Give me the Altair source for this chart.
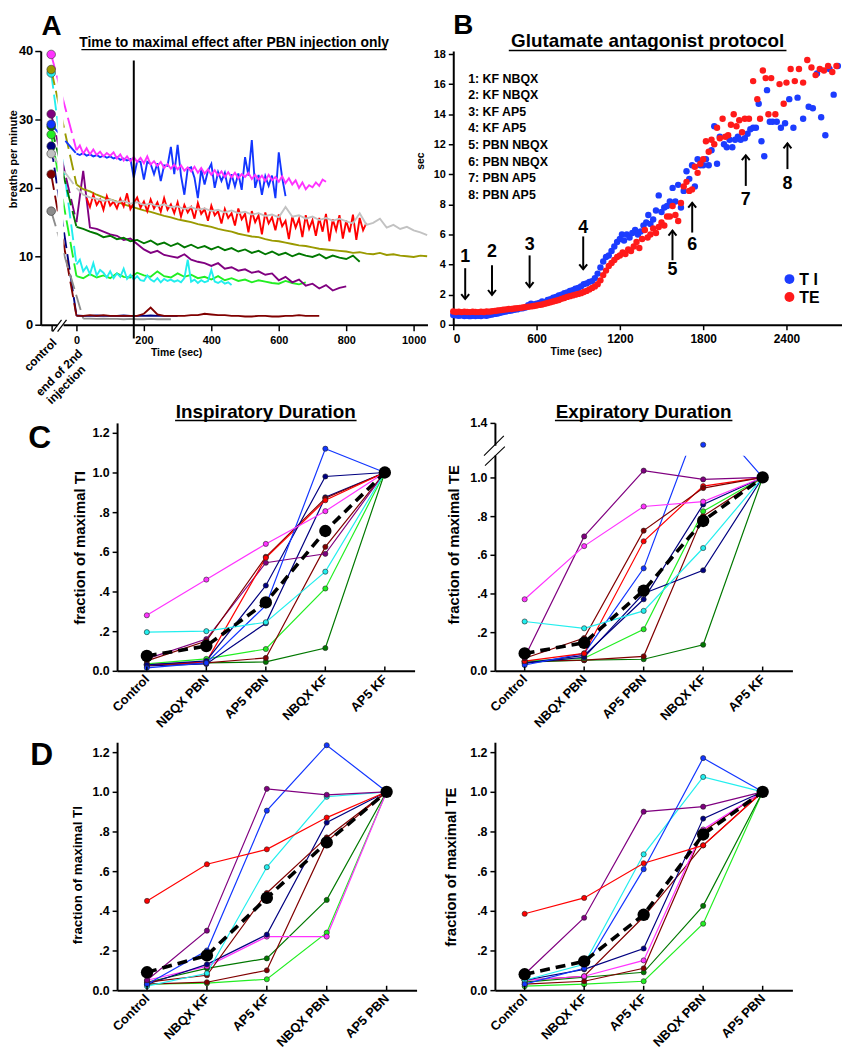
import altair as alt
import pandas as pd

FONT = "Liberation Sans"
ONE = pd.DataFrame({"k": [0]})

COL = {
    "magenta": "#ff33ff", "blue": "#1236ff", "red": "#ff0000", "ltgray": "#c2c2c2",
    "olive": "#9a9a00", "dkgreen": "#007800", "purple": "#800080", "cyan": "#22eeee",
    "lime": "#22ee22", "maroon": "#800000", "navy": "#000080", "gray": "#8c8c8c",
    "black": "#000000", "teal": "#008080",
}

# ---------------- Panel A data ----------------
A_control_t = -75
A_names = ["navy", "maroon", "gray", "lime", "cyan", "purple", "dkgreen", "olive", "red", "ltgray", "blue", "magenta"]
A_control = [26.1, 22.0, 16.6, 27.8, 36.8, 30.8, 29.0, 37.3, None, 25.0, 29.3, 39.5]
A_start = [0, 0, 20, 0, 0, 0, 0, 0, 30, 0, 0, 0]
A_step = [20, 20, 20, 20, 10, 20, 20, 20, 10, 20, 10, 10]

A_navy = [1.35, 1.3, 1.3, 1.35, 1.3, 1.3, 1.3, 1.35, 1.3, 1.3, 1.3, 1.35, 1.3, 1.3, 1.3, 1.3]
A_maroon = [1.3, 1.3, 1.4, 1.3, 1.4, 1.3, 1.3, 1.3, 1.3, 1.3,
            1.6, 2.5, 1.5, 1.3, 1.3, 1.3, 1.3, 1.4, 1.4, 1.6,
            1.5, 1.4, 1.4, 1.3, 1.3, 1.2, 1.2, 1.3, 1.3, 1.2,
            1.2, 1.3, 1.3, 1.4, 1.3, 1.3, 1.3]
A_gray = [0.9, 0.9, 0.85, 0.9, 0.85, 0.85, 0.8, 0.85, 0.8, 0.8, 0.85, 0.8, 0.8, 0.8]
A_lime = [7.1, 6.8, 7.4, 6.9, 7.2, 6.8, 7.5, 7.0, 6.9, 7.6,
          7.2, 7.0, 7.8, 7.1, 6.9, 7.5, 7.0, 7.3, 6.8, 7.0,
          6.6, 7.1, 6.5, 6.8, 6.4, 6.6, 6.2, 6.5, 6.3, 6.1,
          6.0, 6.4, 6.1, 5.9, 6.2]
A_cyan = [8.8, 9.5, 7.8, 8.5, 7.4, 9.0, 7.2, 8.0, 7.6, 6.9,
          7.8, 6.8, 7.5, 7.0, 8.2, 6.7, 7.3, 6.6, 7.1, 6.5,
          6.4, 7.2, 6.6, 6.3, 6.8, 6.2, 6.7, 6.4, 6.6, 6.3,
          6.5, 6.2, 6.8, 9.5, 6.3, 6.6, 6.1, 6.5, 6.2, 6.4,
          8.0, 6.3, 6.1, 6.4, 6.0, 6.2, 5.8]
A_purple = [15.0, 22.5, 14.2, 14.0, 13.6, 13.2, 13.0, 12.4, 12.6, 11.8,
            11.0, 10.5, 10.8, 10.2, 10.0, 9.8, 10.3, 9.5, 9.2, 9.0,
            8.6, 9.0, 8.2, 8.4, 7.9, 8.1, 7.6, 7.8, 7.3, 7.5,
            6.5, 7.0, 6.2, 6.6, 5.7, 6.0, 5.3, 5.8, 5.0, 5.4,
            5.6]
A_dkgreen = [14.3, 14.0, 13.6, 13.3, 12.8, 13.0, 12.5, 12.7, 12.2, 12.4,
             11.9, 12.3, 11.7, 12.0, 11.5, 11.9, 11.3, 11.7, 11.2, 11.5,
             11.0, 11.4, 10.9, 11.2, 10.7, 11.0, 10.5, 10.8, 10.3, 10.7,
             10.2, 10.5, 10.0, 10.4, 10.1, 9.9, 10.3, 9.7, 10.1, 9.8,
             9.6, 10.1, 9.2]
A_olive = [20.5, 19.8, 19.5, 19.0, 18.6, 18.3, 18.0, 17.6, 17.3, 17.0,
           16.7, 16.5, 16.2, 15.9, 15.7, 15.4, 15.2, 15.0, 14.7, 14.5,
           14.3, 14.0, 13.8, 13.6, 13.3, 13.1, 12.9, 12.8, 12.5, 12.3,
           12.2, 12.0, 11.8, 11.6, 11.5, 11.3, 11.1, 11.0, 10.9, 10.8,
           10.7, 10.5, 10.6, 10.4, 10.3, 10.5, 10.2, 10.3, 10.1, 10.0,
           9.9, 10.1, 10.0]
A_red = [18.5, 17.2, 19.0, 17.5, 18.3, 16.8, 18.8, 17.4, 18.0, 17.0,
         18.4, 17.3, 19.2, 16.9, 17.8, 18.6, 17.1, 18.0, 16.6, 18.3,
         17.0, 17.9, 16.5, 18.5, 16.8, 17.6, 16.3, 17.9, 15.8, 17.5,
         16.4, 17.2, 15.5, 17.8, 16.2, 16.9, 15.2, 17.4, 16.0, 16.6,
         14.8, 16.9, 15.6, 16.3, 14.5, 17.0, 15.4, 16.2, 13.5, 16.6,
         15.0, 16.0, 13.2, 16.4, 14.8, 15.7, 13.8, 16.1, 14.4, 15.2,
         12.5, 15.8, 14.2, 15.5, 12.8, 16.0, 14.0, 15.3, 13.0, 15.6,
         13.6, 16.2, 12.2, 15.4, 13.8, 16.0, 12.6, 15.2, 13.5, 16.1,
         12.4, 15.6, 13.8, 14.9]
A_ltgray = [20.0, 19.0, 18.6, 18.4, 18.1, 18.3, 17.9, 18.1, 17.7, 17.9,
            17.5, 17.7, 17.3, 17.6, 17.2, 17.3, 16.9, 17.2, 16.8, 17.0,
            16.6, 16.8, 16.4, 16.7, 16.3, 16.5, 16.1, 16.3, 15.9, 16.1,
            15.7, 17.2, 15.8, 16.0, 15.5, 15.8, 15.3, 15.6, 15.2, 15.5,
            15.1, 14.8, 16.3, 14.6, 14.9, 15.5, 14.2, 14.6, 14.0, 14.3,
            13.8, 13.5, 13.1]
A_blue = [25.0, 24.8, 25.1, 24.7, 24.9, 24.6, 24.8, 24.5, 24.7, 24.4,
          24.6, 24.3, 24.5, 24.1, 24.3, 24.0, 24.2, 21.5, 23.9, 23.8,
          21.2, 23.8, 23.5, 22.0, 23.6, 21.0, 23.3, 23.2, 26.0, 22.0,
          26.3, 21.8, 19.0, 22.8, 23.0, 21.5, 18.5, 22.7, 20.5, 22.5,
          23.5, 20.0, 22.3, 21.0, 22.2, 19.8, 22.0, 20.2, 22.1, 19.7,
          24.5, 21.8, 27.0, 20.0, 21.9, 19.0, 21.7, 20.3, 21.8, 18.5,
          25.2, 21.5, 18.8]
A_magenta = [25.5, 26.2, 25.0, 25.8, 24.9, 25.6, 24.8, 25.3, 24.6, 25.1,
             24.7, 25.2, 24.3, 24.9, 24.0, 24.6, 23.9, 24.5, 23.8, 24.4,
             23.6, 24.6, 23.4, 23.9, 23.2, 23.8, 22.9, 23.5, 22.8, 23.4,
             22.7, 23.3, 22.5, 23.0, 22.4, 23.1, 22.2, 22.9, 22.1, 22.7,
             21.9, 22.6, 21.8, 22.4, 21.6, 22.3, 21.5, 22.2, 21.4, 22.0,
             21.6, 22.2, 21.3, 21.9, 21.2, 21.8, 21.0, 21.9, 21.1, 21.6,
             20.9, 21.7, 20.7, 21.4, 20.5, 21.1, 20.0, 20.8, 19.8, 20.4,
             20.1, 20.8, 20.3, 21.2, 20.9]
A_values = [A_navy, A_maroon, A_gray, A_lime, A_cyan, A_purple, A_dkgreen,
            A_olive, A_red, A_ltgray, A_blue, A_magenta]

# ---------------- Panel B data ----------------
B_dense_t = list(range(0, 1101, 20))
B_TI_dense = [0.65, 0.62, 0.60, 0.62, 0.58, 0.60, 0.57, 0.60, 0.58, 0.60,
              0.58, 0.62, 0.60, 0.65, 0.68, 0.72, 0.75, 0.80, 0.85, 0.88,
              0.92, 0.95, 1.00, 1.02, 1.08, 1.10, 1.15, 1.30, 1.40, 1.35,
              1.40, 1.45, 1.55, 1.50, 1.65, 1.70, 1.80, 1.85, 1.95, 2.00,
              2.10, 2.15, 2.25, 2.30, 2.40, 2.45, 2.55, 2.70, 2.75, 2.85,
              2.90, 3.10, 3.40, 3.80, 4.20, 4.50]
B_TE_dense = [0.88, 0.85, 0.87, 0.84, 0.86, 0.85, 0.84, 0.86, 0.85, 0.84,
              0.86, 0.85, 0.88, 0.87, 0.90, 0.92, 0.95, 0.97, 1.00, 1.02,
              1.05, 1.05, 1.08, 1.10, 1.12, 1.15, 1.18, 1.20, 1.22, 1.25,
              1.28, 1.32, 1.35, 1.40, 1.45, 1.50, 1.55, 1.60, 1.65, 1.72,
              1.78, 1.85, 1.90, 1.95, 2.00, 2.05, 2.10, 2.18, 2.25, 2.35,
              2.45, 2.55, 2.70, 2.95, 3.30, 3.60]
B_TI_t2 = [1120, 1140, 1160, 1180, 1200, 1215, 1230, 1250, 1270, 1290,
           1310, 1330, 1350, 1370, 1390, 1405, 1420, 1440, 1460, 1480,
           1500, 1520, 1540, 1560, 1580, 1600, 1620, 1640, 1660, 1680,
           1700, 1720, 1740, 1760, 1780, 1800, 1820, 1840, 1860, 1880,
           1900, 1920, 1950, 1970, 1990, 2010, 2030, 2050, 2070, 2100,
           2120, 2140, 2160, 2180, 2200, 2220, 2240, 2260, 2280, 2300,
           2330, 2360, 2390, 2420, 2450, 2480, 2520, 2560, 2590, 2620,
           2650, 2680, 2710, 2740, 2770]
B_TI_v2 = [4.6, 4.9, 5.2, 5.5, 5.7, 6.0, 5.6, 6.0, 5.8, 6.1,
           6.3, 6.0, 6.2, 6.6, 6.8, 7.3, 6.7, 7.0, 7.6, 8.6,
           7.5, 7.8, 7.9, 8.2, 9.1, 8.2, 9.3, 7.8, 8.9, 10.2,
           9.7, 10.6, 9.2, 11.0, 10.6, 10.6, 11.0, 10.6, 11.6, 13.2,
           10.7, 12.5, 12.0, 11.8, 12.3, 11.8, 12.3, 12.5, 12.3, 12.4,
           12.7, 13.0, 13.1, 13.1, 14.7, 12.2, 11.2, 15.6, 13.5, 13.5,
           13.5, 13.1, 13.4, 15.0, 13.1, 15.1, 13.7, 14.5, 14.4, 16.7,
           13.8, 12.6, 17.0, 15.3, 17.2]
B_TE_t2 = [1120, 1140, 1160, 1180, 1200, 1220, 1240, 1260, 1280, 1300,
           1320, 1340, 1360, 1380, 1400, 1420, 1440, 1460, 1480, 1500,
           1520, 1540, 1560, 1580, 1600, 1620, 1640, 1660, 1680, 1700,
           1720, 1740, 1760, 1780, 1800, 1820, 1840, 1860, 1880, 1900,
           1920, 1940, 1960, 1980, 2000, 2020, 2040, 2060, 2080, 2100,
           2130, 2160, 2190, 2210, 2230, 2250, 2270, 2290, 2320, 2350,
           2380, 2400, 2430, 2460, 2490, 2520, 2550, 2580, 2610, 2640,
           2670, 2700, 2730, 2760]
B_TE_v2 = [3.9, 4.1, 4.3, 4.5, 4.6, 4.8, 4.7, 5.0, 4.9, 5.2,
           5.5, 5.1, 5.7, 6.3, 5.8, 6.0, 6.4, 6.1, 6.5, 6.8,
           6.6, 7.2, 7.2, 7.9, 7.3, 6.9, 8.1, 9.2, 9.5, 8.9,
           9.0, 10.5, 10.1, 10.7, 11.0, 12.2, 11.5, 12.3, 12.0, 13.1,
           12.4, 13.7, 12.5, 12.6, 13.3, 14.0, 13.2, 13.6, 12.8, 13.7,
           13.7, 16.2, 15.0, 13.7, 16.9, 16.4, 14.0, 16.4, 14.0, 16.0,
           14.7, 16.1, 17.0, 16.2, 17.0, 16.1, 17.6, 17.1, 16.6, 17.0,
           16.9, 17.2, 16.8, 17.2]
B_protocol = ["1: KF NBQX", "2: KF NBQX", "3: KF AP5", "4: KF AP5",
              "5: PBN NBQX", "6: PBN NBQX", "7: PBN AP5", "8: PBN AP5"]
B_arrow_lab = ["1", "2", "3", "4", "5", "6", "7", "8"]
B_arrow_dir = ["down", "down", "down", "down", "up", "up", "up", "up"]
B_arrow_t = [86, 279, 550, 936, 1579, 1721, 2107, 2407]
B_arrow_tail = [3.76, 3.96, 4.61, 5.87, 4.29, 6.13, 9.23, 10.35]
B_arrow_tip = [1.71, 1.98, 2.50, 3.69, 6.26, 8.11, 11.27, 12.06]
B_arrow_laby = [4.48, 4.81, 5.27, 6.46, 3.63, 5.27, 8.31, 9.36]

# ---------------- Panels C / D data ----------------
C_cats = ["Control", "NBQX PBN", "AP5 PBN", "NBQX KF", "AP5 KF"]
D_cats = ["Control", "NBQX KF", "AP5 KF", "NBQX PBN", "AP5 PBN"]

CL_names = ["dkgreen", "lime", "teal", "maroon", "purple", "black", "red", "navy", "blue", "cyan", "magenta"]
CL_vals = [[0.03, 0.04, 0.045, 0.115, 1.0],
           [0.035, 0.06, 0.11, 0.415, 1.0],
           [0.025, 0.035, 0.24, 0.875, 1.0],
           [0.03, 0.04, 0.065, 0.625, 1.0],
           [0.06, 0.16, 0.545, 0.59, 1.0],
           [0.05, 0.15, 0.575, 0.87, 1.0],
           [0.03, 0.045, 0.57, 0.86, 1.0],
           [0.03, 0.05, 0.43, 0.98, 1.0],
           [0.015, 0.04, 0.33, 1.12, 1.0],
           [0.195, 0.20, 0.245, 0.50, 1.0],
           [0.28, 0.46, 0.64, 0.805, 1.0]]
CL_mean = [0.075, 0.125, 0.345, 0.705, 1.0]

CR_names = ["dkgreen", "maroon", "lime", "teal", "navy", "blue", "red", "black", "purple", "cyan", "magenta"]
CR_vals = [[0.045, 0.055, 0.06, 0.135, 1.0],
           [0.05, 0.055, 0.075, 0.80, 1.0],
           [0.05, 0.065, 0.215, 0.825, 1.0],
           [0.04, 0.07, 0.40, 0.52, 1.0],
           [0.04, 0.08, 0.37, 0.86, 1.0],
           [0.03, 0.09, 0.53, 1.5, 1.0],
           [0.05, 0.09, 0.67, 0.955, 1.0],
           [0.065, 0.17, 0.725, 0.945, 1.0],
           [0.07, 0.695, 1.05, 0.99, 1.0],
           [0.255, 0.22, 0.31, 0.635, 1.0],
           [0.37, 0.645, 0.85, 0.875, 1.0]]
CR_mean = [0.09, 0.145, 0.415, 0.775, 1.0]
CR_blue_dot = 1.24   # plotted value of the off-scale blue point above the axis break

DL_names = ["lime", "dkgreen", "black", "magenta", "teal", "maroon", "cyan", "blue", "purple", "red"]
DL_vals = [[0.03, 0.035, 0.055, 0.29, 1.0],
           [0.04, 0.11, 0.16, 0.455, 1.0],
           [0.03, 0.04, 0.10, 0.75, 1.0],
           [0.05, 0.12, 0.27, 0.27, 1.0],
           [0.03, 0.13, 0.28, 0.845, 1.0],
           [0.04, 0.075, 0.49, 0.77, 1.0],
           [0.02, 0.085, 0.62, 0.975, 1.0],
           [0.03, 0.20, 0.905, 1.235, 1.0],
           [0.05, 0.30, 1.015, 0.985, 1.0],
           [0.45, 0.635, 0.71, 0.87, 1.0]]
DL_mean = [0.09, 0.175, 0.465, 0.745, 1.0]

DR_names = ["lime", "dkgreen", "black", "maroon", "magenta", "teal", "cyan", "blue", "purple", "red"]
DR_vals = [[0.02, 0.03, 0.045, 0.335, 1.0],
           [0.04, 0.065, 0.09, 0.425, 1.0],
           [0.03, 0.045, 0.11, 0.80, 1.0],
           [0.05, 0.07, 0.37, 0.73, 1.0],
           [0.05, 0.07, 0.15, 0.81, 1.0],
           [0.05, 0.105, 0.21, 0.865, 1.0],
           [0.05, 0.13, 0.685, 1.075, 1.0],
           [0.03, 0.11, 0.61, 1.17, 1.0],
           [0.08, 0.365, 0.90, 0.925, 1.0],
           [0.385, 0.465, 0.64, 0.73, 1.0]]
DR_mean = [0.08, 0.145, 0.38, 0.785, 1.0]


# ---------------- helpers ----------------
def txt(text, x, y, size, angle=None, align="center", baseline="middle"):
    kw = dict(text=text, font=FONT, fontSize=size, fontWeight="bold",
              align=align, baseline=baseline, color="black")
    if angle is not None:
        kw["angle"] = angle
    return alt.Chart(ONE).mark_text(**kw).encode(x=alt.value(x), y=alt.value(y))


def seg(x1, y1, x2, y2, w=1.5, color="black"):
    return alt.Chart(ONE).mark_rule(strokeWidth=w, color=color).encode(
        x=alt.value(x1), y=alt.value(y1), x2=alt.value(x2), y2=alt.value(y2))


def box(x1, y1, x2, y2, color="white", opacity=1.0):
    return alt.Chart(ONE).mark_rect(color=color, opacity=opacity).encode(
        x=alt.value(x1), x2=alt.value(x2), y=alt.value(y1), y2=alt.value(y2))


# ---------------- Panel A ----------------
a_main, a_pre, a_dot = [], [], []
for n, c0, t0, dt, vals in zip(A_names, A_control, A_start, A_step, A_values):
    for i, v in enumerate(vals):
        a_main.append({"s": n, "t": t0 + i * dt, "v": v})
    if c0 is not None:
        a_pre.append({"s": n, "t": A_control_t, "v": c0})
        a_pre.append({"s": n, "t": t0, "v": vals[0]})
        a_dot.append({"s": n, "t": A_control_t, "v": c0})

xA = alt.X("t:Q", scale=alt.Scale(domain=[-106, 1041], nice=False, zero=False),
           axis=alt.Axis(title=None, values=[-75, 0, 200, 400, 600, 800, 1000], format="d",
                         labelExpr="datum.value < 0 ? '' : datum.label",
                         labelFontSize=11, tickSize=6, labelPadding=4))
yA = alt.Y("v:Q", scale=alt.Scale(domain=[0, 40], nice=False),
           axis=alt.Axis(title=None, values=[0, 10, 20, 30, 40], labelFontSize=13,
                         tickSize=6, labelPadding=2))
cA = alt.Color("s:N", scale=alt.Scale(domain=A_names, range=[COL[n] for n in A_names]), legend=None)

A_layers = [
    alt.Chart(pd.DataFrame(a_pre)).mark_line(strokeWidth=1.9, strokeDash=[16, 6]).encode(x=xA, y=yA, color=cA),
    alt.Chart(pd.DataFrame(a_main)).mark_line(strokeWidth=1.9).encode(x=xA, y=yA, color=cA),
    box(17, 0, 23, 279),
    seg(12, 283, 21, 271, 1.2), seg(17, 283, 26, 271, 1.2),
    alt.Chart(ONE).mark_rule(strokeWidth=2, color="black").encode(
        x=alt.datum(170), y=alt.datum(38.6), y2=alt.datum(-2)),
    alt.Chart(pd.DataFrame(a_dot)).mark_point(filled=True, size=75, opacity=1, stroke="#333333",
                                               strokeWidth=0.6).encode(x=xA, y=yA, color=cA),
    txt("Time to maximal effect after PBN injection only", 195, -4, 14, baseline="alphabetic"),
    seg(41, -1.5, 349, -1.5, 1.3),
    txt("breaths per minute", -27, 109, 11, angle=270),
    txt("Time (sec)", 137, 305, 10.5),
    txt("control", 14, 292, 12, angle=315, align="right"),
    txt("end of 2nd", 40, 303, 12, angle=315, align="right"),
    txt("injection", 43, 319, 12, angle=315, align="right"),
    txt("A", 11, -24, 28),
    box(-33, -39, -32, -38, opacity=0),
]
chartA = alt.layer(*A_layers).properties(width=390, height=276)

# ---------------- Panel B ----------------
dfTI = pd.DataFrame({"t": B_dense_t + B_TI_t2, "v": B_TI_dense + B_TI_v2})
dfTE = pd.DataFrame({"t": B_dense_t + B_TE_t2, "v": B_TE_dense + B_TE_v2})
dfArr = pd.DataFrame({"t": B_arrow_t, "tail": B_arrow_tail, "tip": B_arrow_tip,
                      "ly": B_arrow_laby, "lab": B_arrow_lab, "dir": B_arrow_dir})

xB = alt.X("t:Q", scale=alt.Scale(domain=[0, 2800], nice=False),
           axis=alt.Axis(title=None, values=[0, 600, 1200, 1800, 2400], format="d", labelFontSize=12,
                         tickSize=5, labelPadding=4))
yB_scale = alt.Scale(domain=[0, 18.2], nice=False)
yB_axis = alt.Axis(title=None, values=list(range(0, 19, 2)), labelFontSize=11, tickSize=5, labelPadding=3)


def yB(field):
    return alt.Y(field, scale=yB_scale, axis=yB_axis)


B_BLUE = "#1c3cff"
B_RED = "#ff1a1a"
DOWN = "M -0.8 -1 L 0 0 L 0.8 -1"
UP = "M -0.8 1 L 0 0 L 0.8 1"

B_layers = [
    alt.Chart(dfTI).mark_circle(size=42, color=B_BLUE, opacity=1).encode(x=xB, y=yB("v:Q")),
    alt.Chart(dfTE).mark_circle(size=42, color=B_RED, opacity=1).encode(x=xB, y=yB("v:Q")),
    alt.Chart(dfArr).mark_rule(strokeWidth=2, color="black").encode(x=xB, y=yB("tail:Q"), y2="tip:Q"),
    alt.Chart(dfArr).transform_filter("datum.dir == 'down'").mark_point(
        shape=DOWN, size=100, filled=False, strokeWidth=2, color="black", opacity=1).encode(x=xB, y=yB("tip:Q")),
    alt.Chart(dfArr).transform_filter("datum.dir == 'up'").mark_point(
        shape=UP, size=100, filled=False, strokeWidth=2, color="black", opacity=1).encode(x=xB, y=yB("tip:Q")),
    alt.Chart(dfArr).mark_text(font=FONT, fontSize=18, fontWeight="bold", color="black").encode(
        x=xB, y=yB("ly:Q"), text="lab:N"),
    txt("Glutamate antagonist protocol", 196, -4, 19, baseline="alphabetic"),
    seg(56, -0.5, 336, -0.5, 1.5),
    txt("sec", -33, 111, 10.5, angle=270),
    txt("Time (sec)", 124, 304, 10.5),
    txt("B", 10, -25, 28),
    alt.Chart(ONE).mark_circle(size=100, color=B_BLUE, opacity=1).encode(x=alt.value(339), y=alt.value(230)),
    alt.Chart(ONE).mark_circle(size=100, color=B_RED, opacity=1).encode(x=alt.value(339), y=alt.value(248)),
    txt("T I", 349, 231, 16, align="left"),
    txt("TE", 349, 249, 16, align="left"),
]
for i, lab in enumerate(B_protocol):
    B_layers.append(txt(lab, 15, 28 + i * 16.7, 12.5, align="left"))
chartB = alt.layer(*B_layers).properties(width=392, height=276)

# ---------------- Panels C / D ----------------
LBL = ("datum.value == 0 ? '0.0' : (datum.value >= 1 ? format(datum.value, '.1f') : "
       "replace(format(datum.value, '.1f'), '0.', '.'))")


def dur_panel(cats, names, values, mean, width, yscale, yvals, ytitle, ytx, yty, ysize,
              title=None, title_w=180, extra_before_pts=None, extra_after=None, dot_override=None):
    rows = []
    for n, vals in zip(names, values):
        for i, (c, v) in enumerate(zip(cats, vals)):
            vp = v
            if dot_override and n == dot_override[0] and c == dot_override[1]:
                vp = dot_override[2]
            rows.append({"s": n, "c": c, "i": i, "v": v, "vp": vp})
    df = pd.DataFrame(rows)
    mdf = pd.DataFrame({"c": cats, "i": list(range(len(cats))), "v": mean})
    x = alt.X("c:N", sort=cats, scale=alt.Scale(type="point", padding=0.5),
              axis=alt.Axis(title=None, labelAngle=315, labelAlign="right", labelBaseline="middle",
                            ticks=False, labelPadding=6, labelFontSize=13))
    yax = alt.Axis(title=None, values=yvals, labelExpr=LBL, labelFontSize=12.5, tickSize=5, labelPadding=3)

    def y(field):
        return alt.Y(field, scale=yscale, axis=yax)

    color = alt.Color("s:N", scale=alt.Scale(domain=names, range=[COL[n] for n in names]), legend=None)
    layers = [
        alt.Chart(df).mark_line(strokeWidth=1.2).encode(x=x, y=y("v:Q"), color=color, order=alt.Order("i:Q")),
    ]
    if extra_before_pts:
        layers += extra_before_pts
    layers += [
        alt.Chart(df).mark_point(filled=True, size=27, opacity=1, stroke="#222222", strokeWidth=0.6).encode(
            x=x, y=y("vp:Q"), color=color),
        alt.Chart(mdf).mark_line(strokeWidth=3.6, strokeDash=[10, 6], color="black").encode(
            x=x, y=y("v:Q"), order=alt.Order("i:Q")),
        alt.Chart(mdf).mark_circle(size=155, color="black", opacity=1).encode(x=x, y=y("v:Q")),
        alt.Chart(pd.DataFrame({"c": cats})).mark_rule(strokeWidth=1.5, color="black").encode(
            x=x, y=alt.datum(0), y2=alt.datum(0.022)),
        txt(ytitle, ytx, yty, ysize, angle=270),
    ]
    if title:
        layers += [txt(title, width / 2, -5, 19, baseline="alphabetic"),
                   seg(width / 2 - title_w / 2, -2.5, width / 2 + title_w / 2, -2.5, 1.5)]
    if extra_after:
        layers += extra_after
    return alt.layer(*layers).properties(width=width, height=250)


Y_TICKS = [0, 0.2, 0.4, 0.6, 0.8, 1.0, 1.2]
chartCL = dur_panel(C_cats, CL_names, CL_vals, CL_mean, 300,
                    alt.Scale(domain=[0, 1.25], nice=False), Y_TICKS,
                    "fraction of maximal TI", -37, 126, 15,
                    title="Inspiratory Duration", title_w=183,
                    extra_after=[txt("C", -78, 15, 32)])
chartCR = dur_panel(C_cats, CR_names, CR_vals, CR_mean, 300,
                    alt.Scale(domain=[0, 1.0, 1.4], range=[250, 55, 0], nice=False, zero=False),
                    [0, 0.2, 0.4, 0.6, 0.8, 1.0, 1.4],
                    "fraction of maximal TE", -41, 123, 15,
                    title="Expiratory Duration", title_w=179,
                    extra_before_pts=[box(150, -20, 300, 33)],
                    extra_after=[box(-3, 23, 3, 33), seg(-11, 33, 9, 13, 1.1), seg(-10, 43, 10, 24, 1.1)],
                    dot_override=("blue", "NBQX KF", CR_blue_dot))
chartDL = dur_panel(D_cats, DL_names, DL_vals, DL_mean, 302,
                    alt.Scale(domain=[0, 1.25], nice=False), Y_TICKS,
                    "fraction of maximal TI", -39, 134, 13.5,
                    extra_after=[txt("D", -76, 13, 32)])
chartDR = dur_panel(D_cats, DR_names, DR_vals, DR_mean, 300,
                    alt.Scale(domain=[0, 1.25], nice=False), Y_TICKS,
                    "fraction of maximal TE", -44, 126, 15)


def spacer(h):
    return alt.Chart(ONE).mark_rect(opacity=0).encode(
        x=alt.value(0), x2=alt.value(1), y=alt.value(0), y2=alt.value(1)).properties(width=300, height=h)


# Nested concats count as zero-size under "flush" bounds, which lets each column be offset freely.
wA = alt.vconcat(chartA, bounds="flush")
wB = alt.vconcat(chartB, bounds="flush")
wL = alt.vconcat(spacer(303), chartCL, chartDL, spacing=72, bounds="flush")
wR = alt.vconcat(spacer(303), chartCR, chartDR, spacing=72, bounds="flush")
rest2 = alt.hconcat(wB, wR, spacing=42, bounds="flush")
rest1 = alt.hconcat(wL, rest2, spacing=339, bounds="flush")
chart = alt.hconcat(wA, rest1, spacing=77, bounds="flush").properties(
    padding=0, background="white"
).configure_view(strokeWidth=0).configure_axis(
    domainColor="black", domainWidth=2, tickColor="black", tickWidth=1.5,
    labelColor="black", labelFont=FONT, labelFontWeight="bold", grid=False
)

chart.save("out.html", embed_options={"renderer": "svg", "actions": False})
